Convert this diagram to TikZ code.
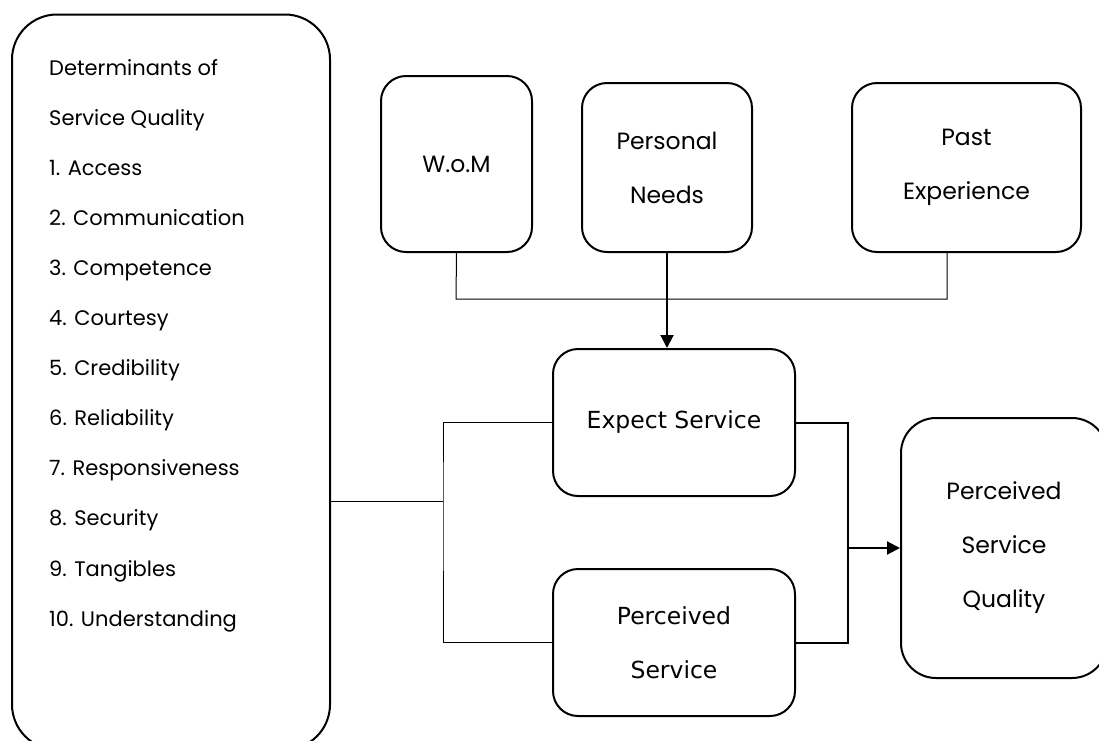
\documentclass[tikz,border=0pt]{standalone}
\usepackage{fontspec}
\newfontfamily\lomafont{Poppins}
\newfontfamily\dvfont{DejaVu Sans}
\usetikzlibrary{arrows.meta}
\tikzset{
  box/.style={draw, line width=2pt, inner sep=0pt, align=center, rounded corners=25pt},
  lomatext/.style={font=\lomafont\fontsize{23.5}{54}\selectfont},
  dvtext/.style={font=\dvfont\fontsize{23.5}{54}\selectfont},
  listtext/.style={font=\lomafont\fontsize{21}{25}\selectfont, inner sep=0pt},
  thinline/.style={line width=1pt},
  thickline/.style={line width=2pt},
  arr/.style={-{Triangle[length=13pt,width=13pt]}}
}
\begin{document}
\begin{tikzpicture}[x=1pt,y=-1pt]
\useasboundingbox (0,0) rectangle (1099,740);
% left determinants box
\node[box, rounded corners=45pt, minimum width=318pt, minimum height=735pt] (det) at (171,382) {};
\foreach \t [count=\i from 0] in {Determinants of, Service Quality, 1. Access, 2. Communication, 3. Competence, 4. Courtesy, 5. Credibility, 6. Reliability, 7. Responsiveness, 8. Security, 9. Tangibles, 10. Understanding}
  \node[listtext, anchor=base west] (t\i) at (49,{75+50.1*\i}) {\t};
% top boxes
\node[box, lomatext, minimum width=151pt, minimum height=176pt] (wom) at (456.5,164) {W.o.M};
\node[box, lomatext, minimum width=170pt, minimum height=169pt] (pn) at (667,167.5) {Personal\\Needs};
\node[box, lomatext, minimum width=229pt, minimum height=169pt] (pe) at (966.5,167.5) {Past\\Experience};
% middle boxes
\node[box, dvtext, minimum width=242pt, minimum height=147pt] (es) at (674,422.5) {Expect Service};
\node[box, dvtext, minimum width=242pt, minimum height=147pt] (ps) at (674,642.5) {Perceived\\Service};
% right box
\node[box, lomatext, rounded corners=35pt, minimum width=206pt, minimum height=260pt] (psq) at (1004,548) {Perceived\\Service\\Quality};
% connectors
\coordinate (jt) at (456,299);
\coordinate (jl) at (443,501);
\coordinate (jr) at (848,548);
\draw[thinline] (wom.south) -- (jt) -| ([xshift=-19.5pt]pe.south);
\draw[thickline, arr] (pn.south) -- (pn.south |- es.north);
\draw[thinline] (det.east |- jl) -- (jl);
\draw[thinline] (es.west) -| (jl) |- (ps.west);
\draw[thickline] (es.east) -| (jr) |- (ps.east);
\draw[thickline, arr] (jr) -- (psq.west);
\end{tikzpicture}
\end{document}
